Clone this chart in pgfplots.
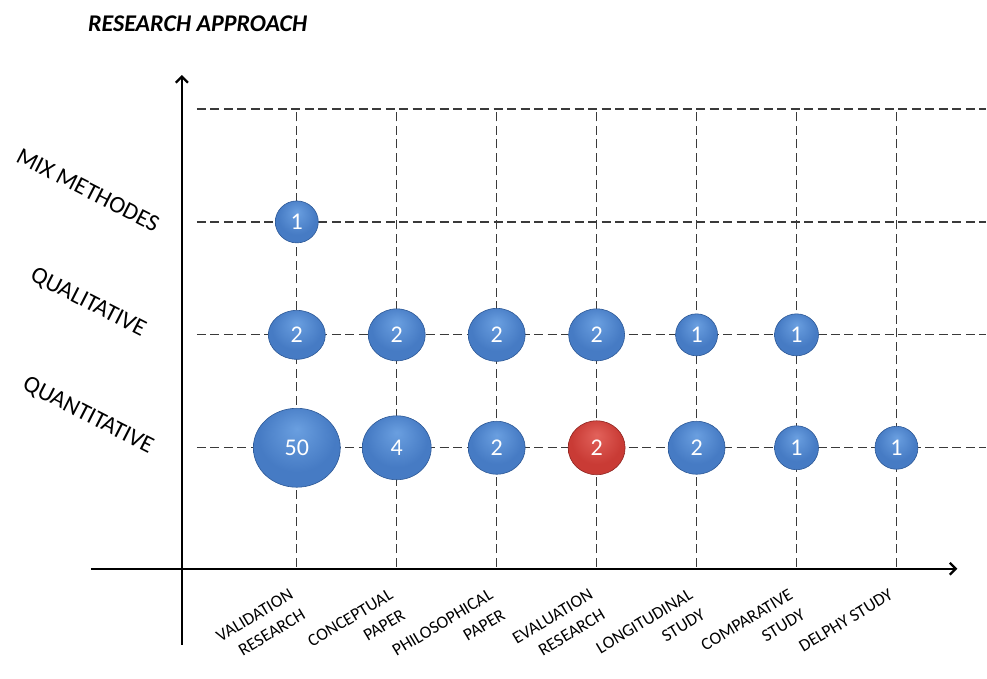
\documentclass[border=0pt]{standalone}
\usepackage{fontspec}
\setmainfont{Carlito}
\usepackage{pgfplots}
\pgfplotsset{compat=1.18}
\usepackage{pgfplotstable}
\usetikzlibrary{arrows.meta,shapes.geometric}

\definecolor{bubHi}{HTML}{6A9FE0}
\definecolor{bubMid}{HTML}{467BC4}
\definecolor{bubDark}{HTML}{2C5896}
\definecolor{redHi}{HTML}{E2625B}
\definecolor{redMid}{HTML}{C93B35}
\definecolor{redDark}{HTML}{8E2420}
\definecolor{gridc}{HTML}{3A3A3A}

\pgfdeclareradialshading{bubblue}{\pgfpoint{0bp}{12bp}}{color(0bp)=(bubHi); color(22bp)=(bubMid); color(41bp)=(bubMid); color(50bp)=(bubDark)}
\pgfdeclareradialshading{bubred}{\pgfpoint{0bp}{12bp}}{color(0bp)=(redHi); color(22bp)=(redMid); color(41bp)=(redMid); color(50bp)=(redDark)}

\pgfplotstableread{
x y n w h
1 1 50 87 79
2 1 4 69 64
3 1 2 57 53
5 1 2 57 53
6 1 1 44 44
7 1 1 43 43
1 2 2 57 49
2 2 2 57 52
3 2 2 57 53
4 2 2 56 52
5 2 1 42 42
6 2 1 44 42
1 3 1 43 42
}\bluedata
\pgfplotstableread{
x y n w h
4 1 2 57 54
}\reddata

\begin{document}
\begin{tikzpicture}
\begin{axis}[
  x=100bp, y=113bp,
  xmin=-0.15, xmax=7.9, ymin=-0.071, ymax=4.3,
  clip=false,
  axis line style={draw=none},
  major tick length=0pt,
  tick style={draw=none},
  xtick={1,...,7},
  xticklabels={{VALIDATION\\RESEARCH},{CONCEPTUAL\\PAPER},{PHILOSOPHICAL\\PAPER},{EVALUATION\\RESEARCH},{LONGITUDINAL\\STUDY},{COMPARATIVE\\STUDY},{DELPHY STUDY}},
  xticklabel style={xshift=-8bp, yshift=-18bp, rotate=31, anchor=north east, align=right, inner sep=1bp, font=\fontsize{17.5bp}{23.5bp}\selectfont},
  ytick={1,2,3},
  yticklabels={QUANTITATIVE,QUALITATIVE,MIX METHODES},
  yticklabel style={xshift=-94bp, yshift=32bp, rotate=-27, anchor=center, font=\fontsize{24bp}{28bp}\selectfont},
  /pgf/number format/assume math mode=true,
]
% invisible frame fixing the picture size
\path (axis cs:-1.97,4.965) rectangle (axis cs:7.90,-0.947);
% dashed grid
\pgfplotsinvokeforeach{1,...,7}{\draw[gridc, line width=1.2bp, dash pattern=on 9bp off 4.5bp] (axis cs:#1,-0.053) -- (axis cs:#1,4);}
\pgfplotsinvokeforeach{1,...,4}{\draw[gridc, line width=1.2bp, dash pattern=on 9bp off 4.5bp] (axis cs:0,#1) -- (axis cs:7.9,#1);}

\addplot[only marks, mark=none,
  point meta=explicit,
  visualization depends on={\thisrow{w} \as \bw},
  visualization depends on={\thisrow{h} \as \bh},
  nodes near coords,
  every node near coord/.append style={ellipse, anchor=center, inner sep=0pt,
    minimum width=\bw bp, minimum height=\bh bp,
    shade, shading=bubblue, draw=bubDark, line width=0.6bp,
    text=white, font=\fontsize{24bp}{26bp}\selectfont},
] table[x=x, y=y, meta=n] {\bluedata};

\addplot[only marks, mark=none,
  point meta=explicit,
  visualization depends on={\thisrow{w} \as \bw},
  visualization depends on={\thisrow{h} \as \bh},
  nodes near coords,
  every node near coord/.append style={ellipse, anchor=center, inner sep=0pt,
    minimum width=\bw bp, minimum height=\bh bp,
    shade, shading=bubred, draw=redDark, line width=0.6bp,
    text=white, font=\fontsize{24bp}{26bp}\selectfont},
] table[x=x, y=y, meta=n] {\reddata};

% axes with arrows
\draw[line width=2.3bp, -{Straight Barb[length=6bp,width=12bp]}] (axis cs:-0.15,-0.743) -- (axis cs:-0.15,4.30);
\draw[line width=2.3bp, -{Straight Barb[length=6bp,width=12bp]}] (axis cs:-1.06,-0.071) -- (axis cs:7.61,-0.071);

\node[anchor=base west, inner sep=0pt, font=\fontsize{24bp}{28bp}\selectfont\bfseries\itshape] at (axis cs:-1.09,4.69) {RESEARCH APPROACH};
\end{axis}
\end{tikzpicture}
\end{document}
